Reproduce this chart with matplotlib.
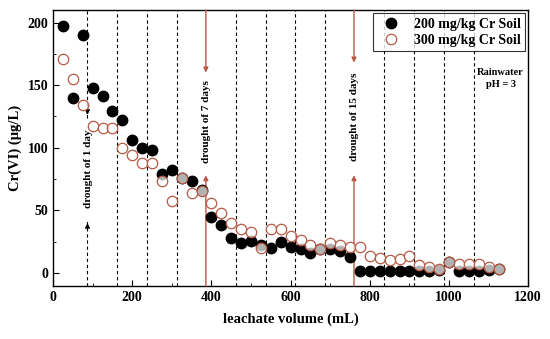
import matplotlib
matplotlib.use('Agg')
import matplotlib.pyplot as plt
from matplotlib.ticker import MultipleLocator

plt.rcParams['font.family'] = ['Liberation Serif', 'DejaVu Serif']
plt.rcParams['font.weight'] = 'bold'

# leachate volume (mL)
volume = [25 * k for k in range(1, 46)]

# Cr(VI) (ug/L) - 200 mg/kg Cr soil
cr200 = [197, 140, 190, 148, 141, 129, 122, 106, 100, 98,
         79, 82, 76, 73, 66, 45, 38, 27.5, 24, 25.6,
         22, 20, 25, 21, 19, 15.5, 19, 19, 17.6, 13,
         1.5, 1.5, 1.5, 1.5, 1.5, 1.5, 1.5, 1.5, 2.5, 9,
         1.5, 1.5, 1.5, 2, 3]

# Cr(VI) (ug/L) - 300 mg/kg Cr soil
cr300 = [171, 155, 134, 117, 115.5, 115.5, 99.5, 94, 88, 87.5,
         73, 57.6, 75.5, 64, 65.6, 55.5, 48, 40, 34.7, 33,
         20, 34.7, 34.7, 29.4, 26.2, 22, 19, 24, 22, 20.3,
         20.3, 13.4, 11.5, 10.2, 10.7, 13.4, 6.2, 4.8, 3, 9,
         7, 7, 6.7, 4.3, 3]

# drying periods / events
dashed_x = [87, 162, 237, 312, 462, 537, 612, 687, 837, 912, 987, 1062]
drought_x = [87, 386, 760]
drought_labels = ['drought of 1 day', 'drought of 7 days', 'drought of 15 days']

red = '#b85a45'
ymin, ymax = -10.6, 210

fig = plt.figure(figsize=(5.5, 3.39), dpi=100)
ax = fig.add_axes([0.0964, 0.156, 0.864, 0.8145])

for x in dashed_x[1:]:
    ax.axvline(x, color='k', lw=0.8, ls=(0, (3, 2.5)), zorder=1)

# 1 day drought: dashed line with arrowheads
x1 = drought_x[0]
ax.plot([x1, x1], [124, ymax], color='k', lw=0.8, ls=(0, (3, 2.5)), zorder=1)
ax.plot([x1, x1], [ymin, 42], color='k', lw=0.8, ls=(0, (3, 2.5)), zorder=1)
ax.annotate('', xy=(x1, 124), xytext=(x1, 134),
            arrowprops=dict(arrowstyle='-|>', color='k', lw=0.8, mutation_scale=7))
ax.annotate('', xy=(x1, 42), xytext=(x1, 32),
            arrowprops=dict(arrowstyle='-|>', color='k', lw=0.8, mutation_scale=7))
ax.text(x1 + 2, 83, drought_labels[0], rotation=90, ha='center', va='center',
        fontsize=8, fontweight='bold', zorder=2,
        bbox=dict(facecolor='white', edgecolor='none', pad=1))

# 7 and 15 day droughts: solid red arrows
for x, top_head, label in [(drought_x[1], 160, drought_labels[1]),
                           (drought_x[2], 168, drought_labels[2])]:
    ax.annotate('', xy=(x, top_head), xytext=(x, ymax),
                arrowprops=dict(arrowstyle='-|>', color=red, lw=1.0, mutation_scale=7,
                                shrinkA=0, shrinkB=0))
    ax.annotate('', xy=(x, 78), xytext=(x, ymin),
                arrowprops=dict(arrowstyle='-|>', color=red, lw=1.0, mutation_scale=7,
                                shrinkA=0, shrinkB=0))
    ax.text(x + 2, (top_head + 78) / 2 + 2, label, rotation=90, ha='center', va='center',
            fontsize=8, fontweight='bold')

ax.text(1130, 155, 'Rainwater\npH = 3', ha='center', va='center',
        fontsize=7.5, fontweight='bold', linespacing=1.4)

ax.plot(volume, cr200, 'o', color='black', markersize=7.5, label='200 mg/kg Cr Soil', zorder=3)
ax.plot(volume, cr300, 'o', markerfacecolor=(1, 1, 1, 0.7), markeredgecolor=red,
        markeredgewidth=0.9, markersize=7.5, label='300 mg/kg Cr Soil', zorder=4)

ax.set_xlim(0, 1200)
ax.set_ylim(ymin, ymax)
ax.xaxis.set_major_locator(MultipleLocator(200))
ax.xaxis.set_minor_locator(MultipleLocator(100))
ax.yaxis.set_major_locator(MultipleLocator(50))
ax.yaxis.set_minor_locator(MultipleLocator(25))
ax.tick_params(which='both', direction='in', top=False, right=False, labelsize=10)
ax.tick_params(which='major', length=4)
ax.tick_params(which='minor', length=2.5)
for lab in ax.get_xticklabels() + ax.get_yticklabels():
    lab.set_fontweight('bold')
for s in ax.spines.values():
    s.set_linewidth(1.0)

ax.set_xlabel('leachate volume (mL)', fontsize=10.5, fontweight='bold', labelpad=6)
ax.set_ylabel('Cr(VI) (μg/L)', fontsize=10.5, fontweight='bold', labelpad=4)

leg = ax.legend(loc='upper right', fontsize=10, frameon=True, fancybox=False,
                borderaxespad=0.25, handletextpad=0.6, borderpad=0.3,
                labelspacing=0.25, prop={'weight': 'bold', 'size': 10})
leg.get_frame().set_edgecolor('black')
leg.get_frame().set_linewidth(0.8)
leg.set_zorder(5)

fig.savefig('out.png', dpi=100)
